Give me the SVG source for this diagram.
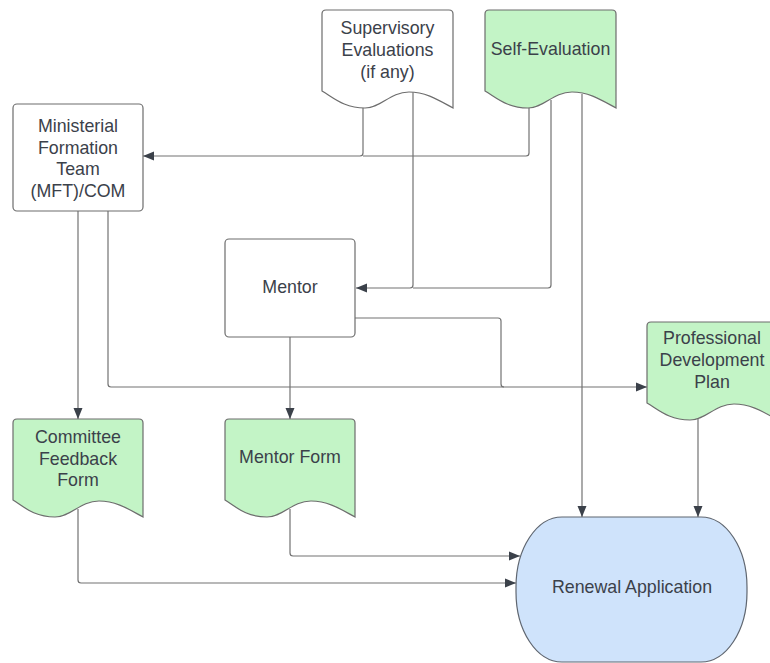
<svg xmlns="http://www.w3.org/2000/svg" width="770" height="663" viewBox="0 0 770 663">
  <style>
    .box { fill: #ffffff; stroke: #6d6d6d; stroke-width: 1.2; }
    .doc { fill: #ffffff; stroke: #6d6d6d; stroke-width: 1.2; }
    .green { fill: #c3f4c6; }
    .term { fill: #cfe3fb; stroke: #5f6670; stroke-width: 1.2; }
    .lbl { font-family: "Liberation Sans", Arial, sans-serif; font-size: 17.8px; fill: #3b414a; text-anchor: middle; }
    .conn path { fill: none; stroke: #727272; stroke-width: 1.2; }
  </style>
  <defs>
    <marker id="arrow" markerUnits="userSpaceOnUse" markerWidth="13" markerHeight="11" refX="12" refY="5.5" orient="auto">
      <path d="M1,1 L12,5.5 L1,10 Z" fill="#3b414a"/>
    </marker>
  </defs>

  <rect width="770" height="663" fill="#ffffff"/>

  <!-- connectors -->
  <g id="connectors" class="conn">
    <!-- evaluations to formation team -->
    <path d="M363,108 V153 Q363,156 360,156 H143" marker-end="url(#arrow)"/>
    <path d="M529,108 V153 Q529,156 526,156 H363"/>
    <!-- evaluations to mentor -->
    <path d="M413,92 V285 Q413,288 410,288 H356" marker-end="url(#arrow)"/>
    <path d="M551,100 V285 Q551,288 548,288 H413"/>
    <!-- self-evaluation to renewal -->
    <path d="M582,94 V517" marker-end="url(#arrow)"/>
    <!-- formation team outputs -->
    <path d="M78,211 V419" marker-end="url(#arrow)"/>
    <path d="M108,211 V384 Q108,387 111,387 H647" marker-end="url(#arrow)"/>
    <!-- mentor outputs -->
    <path d="M355,318 H498 Q501,318 501,321 V384 Q501,387 504,387"/>
    <path d="M290,337 V419" marker-end="url(#arrow)"/>
    <!-- development plan to renewal -->
    <path d="M698,419 V517" marker-end="url(#arrow)"/>
    <!-- forms to renewal -->
    <path d="M290,509 V553 Q290,556 293,556 H520" marker-end="url(#arrow)"/>
    <path d="M78,509 V580 Q78,583 81,583 H516" marker-end="url(#arrow)"/>
  </g>

  <!-- Supervisory Evaluations -->
  <g id="supervisory-evaluations">
    <path class="doc" d="M322,91 V14 Q322,10 326,10 H449 Q453,10 453,14 V108 C440,101 427,92 409,92 C390,92 381,108 365,108 C344,108 334,98 322,91 Z"/>
    <text class="lbl" x="387.5" y="34">Supervisory</text>
    <text class="lbl" x="387.5" y="56">Evaluations</text>
    <text class="lbl" x="387.5" y="78">(if any)</text>
  </g>

  <!-- Self-Evaluation -->
  <g id="self-evaluation">
    <path class="doc green" d="M485,91 V14 Q485,10 489,10 H612 Q616,10 616,14 V108 C603,101 590,92 572,92 C553,92 544,108 528,108 C507,108 497,98 485,91 Z"/>
    <text class="lbl" x="550.5" y="55">Self-Evaluation</text>
  </g>

  <!-- Ministerial Formation Team -->
  <g id="mft">
    <rect class="box" x="13" y="104" width="130" height="107" rx="4"/>
    <text class="lbl" x="78" y="132">Ministerial</text>
    <text class="lbl" x="78" y="153.5">Formation</text>
    <text class="lbl" x="78" y="175">Team</text>
    <text class="lbl" x="78" y="197">(MFT)/COM</text>
  </g>

  <!-- Mentor -->
  <g id="mentor">
    <rect class="box" x="225" y="239" width="130" height="98" rx="4"/>
    <text class="lbl" x="290" y="293">Mentor</text>
  </g>

  <!-- Professional Development Plan -->
  <g id="pdp">
    <path class="doc green" d="M647,403 V326 Q647,322 651,322 H774 Q778,322 778,326 V420 C765,413 752,404 734,404 C715,404 706,420 690,420 C669,420 659,410 647,403 Z"/>
    <text class="lbl" x="712" y="344">Professional</text>
    <text class="lbl" x="712" y="366">Development</text>
    <text class="lbl" x="712" y="388">Plan</text>
  </g>

  <!-- Committee Feedback Form -->
  <g id="committee-feedback-form">
    <path class="doc green" d="M13,500 V423 Q13,419 17,419 H139 Q143,419 143,423 V517 C130,510 117,501 99,501 C80,501 71,517 55,517 C34,517 24,507 13,500 Z"/>
    <text class="lbl" x="78" y="443">Committee</text>
    <text class="lbl" x="78" y="464.5">Feedback</text>
    <text class="lbl" x="78" y="486">Form</text>
  </g>

  <!-- Mentor Form -->
  <g id="mentor-form">
    <path class="doc green" d="M225,500 V423 Q225,419 229,419 H351 Q355,419 355,423 V517 C342,510 329,501 311,501 C292,501 283,517 267,517 C246,517 236,507 225,500 Z"/>
    <text class="lbl" x="290" y="463">Mentor Form</text>
  </g>

  <!-- Renewal Application -->
  <g id="renewal-application">
    <rect class="term" x="516" y="517" width="231" height="145" rx="46" ry="70"/>
    <text class="lbl" x="632" y="593">Renewal Application</text>
  </g>
</svg>
